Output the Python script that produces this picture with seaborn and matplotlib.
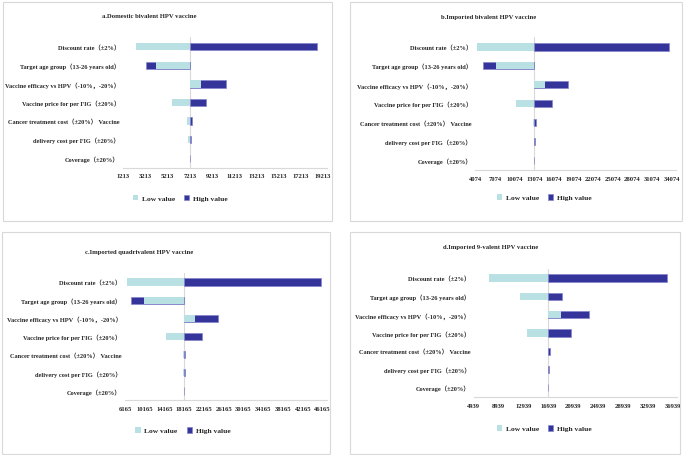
import seaborn as sns
import matplotlib.pyplot as plt
from matplotlib.patches import Rectangle

sns.set_style("white")
plt.rcParams['font.family'] = ['Liberation Serif', 'Noto Sans CJK SC', 'DejaVu Sans']
plt.rcParams['font.weight'] = 'bold'

W, H = 685, 456

params = ['Discount rate（±2%）',
          'Target age group（13-26 years old）',
          'Vaccine efficacy vs HPV（-10%，-20%）',
          'Vaccine price for per FIG（±20%）',
          'Cancer treatment cost（±20%） Vaccine',
          'delivery cost per FIG（±20%）',
          'Coverage（±20%）']

# a. Domestic bivalent
base_a = 7213
low_a = [2357, 4132, 8213, 5627, 6979, 7069, 7213]
high_a = [18636, 3231, 10465, 8664, 7375, 7285, 7213]
ticks_a = [1213, 3213, 5213, 7213, 9213, 11213, 13213, 15213, 17213, 19213]

# b. Imported bivalent
base_b = 13074
low_b = [4350, 7166, 14665, 10319, 12875, 12980, 13074]
high_b = [33645, 5222, 18232, 15829, 13288, 13180, 13074]
ticks_b = [4074, 7074, 10074, 13074, 16074, 19074, 22074, 25074, 28074, 31074, 34074]

# c. Imported quadrivalent
base_c = 18165
low_c = [6509, 10070, 20264, 14459, 17827, 18000, 18165]
high_c = [45758, 7379, 25043, 21803, 18313, 18250, 18165]
ticks_c = [6165, 10165, 14165, 18165, 22165, 26165, 30165, 34165, 38165, 42165, 46165]

# d. Imported 9-valent
base_d = 16939
low_d = [7319, 12338, 18940, 13520, 16800, 16880, 16939]
high_d = [36073, 19074, 23424, 20595, 17190, 17000, 16939]
ticks_d = [4939, 8939, 12939, 16939, 20939, 24939, 28939, 32939, 36939]

titles = ['a.Domestic bivalent HPV vaccine', 'b.Imported bivalent HPV vaccine',
          'c.Imported quadrivalent HPV vaccine', 'd.Imported 9-valent HPV vaccine']

low_color = '#b9e1e3'
high_color = '#34349a'

# layout in pixels: tick0 px, tickN px, top, bottom, title xy, legend xy, box
layout = [
    dict(x0=123.3, x1=323.0, top=38.4, bot=168.6, title=(149, 16.7), leg=(180, 199), box=(2.7, 3.3, 332.3, 222)),
    dict(x0=475.5, x1=671.5, top=38.3, bot=170.8, title=(489, 17.3), leg=(544, 198.3), box=(350.3, 3, 682, 221.7)),
    dict(x0=125.0, x1=322.7, top=273.9, bot=401.1, title=(139, 252.3), leg=(183, 431.3), box=(2, 233, 330, 454.7)),
    dict(x0=473.9, x1=672.7, top=269.9, bot=397.9, title=(491, 248), leg=(544, 429.3), box=(350.3, 233, 679.7, 455)),
]

panels = [(base_a, low_a, high_a, ticks_a), (base_b, low_b, high_b, ticks_b),
          (base_c, low_c, high_c, ticks_c), (base_d, low_d, high_d, ticks_d)]

fig = plt.figure(figsize=(6.85, 4.56), dpi=100)

for (base, low, high, ticks), lay, title in zip(panels, layout, titles):
    span = ticks[-1] - ticks[0]
    px_per = (lay['x1'] - lay['x0']) / span
    pad_px = 4
    left = lay['x0']
    width = lay['x1'] - lay['x0'] + pad_px
    ax = fig.add_axes([left / W, 1 - lay['bot'] / H, width / W, (lay['bot'] - lay['top']) / H])

    # bars start at the base case, so plot the change from it
    d_high = [h - base for h in high]
    d_low = [l - base for l in low]
    sns.barplot(x=d_high, y=params, color=high_color, saturation=1, width=0.4,
                orient='h', label='High value', edgecolor='#8484cc', linewidth=0.5, ax=ax)
    sns.barplot(x=d_low, y=params, color=low_color, saturation=1, width=0.4,
                orient='h', label='Low value', linewidth=0, ax=ax)
    ax.axvline(0, color='#d9d9d9', lw=0.8, zorder=0)

    ax.set_xlim(ticks[0] - base, ticks[-1] - base + pad_px / px_per)
    ax.set_ylim(6.5, -0.5)
    ax.set_xticks([t - base for t in ticks])
    ax.set_xticklabels([str(t) for t in ticks])
    ax.set_xlabel('')
    ax.set_ylabel('')
    ax.tick_params(axis='x', labelsize=4.8, length=2, width=0.6, color='#d9d9d9', pad=2.2, direction='out')
    ax.tick_params(axis='y', labelsize=4.6, length=0, pad=2.5)
    for lab in ax.get_xticklabels() + ax.get_yticklabels():
        lab.set_fontweight('bold')
    sns.despine(ax=ax, left=True)
    ax.spines['bottom'].set_color('#d9d9d9')
    ax.spines['bottom'].set_linewidth(0.8)

    handles, labels = ax.get_legend_handles_labels()
    ax.legend(handles[::-1], labels[::-1], ncol=2, loc='center',
              bbox_to_anchor=(lay['leg'][0] / W, 1 - lay['leg'][1] / H),
              bbox_transform=fig.transFigure, frameon=False,
              prop={'size': 5.4, 'weight': 'bold'},
              handlelength=0.75, handleheight=0.75, handletextpad=0.45, columnspacing=1.2)

    fig.text(lay['title'][0] / W, 1 - lay['title'][1] / H, title, ha='center', va='center',
             fontsize=4.8, fontweight='bold')

    bx0, by0, bx1, by1 = lay['box']
    fig.add_artist(Rectangle((bx0 / W, 1 - by1 / H), (bx1 - bx0) / W, (by1 - by0) / H,
                             transform=fig.transFigure, fill=False, edgecolor='#d9d9d9', lw=0.8))

plt.savefig('out.png', dpi=100)
